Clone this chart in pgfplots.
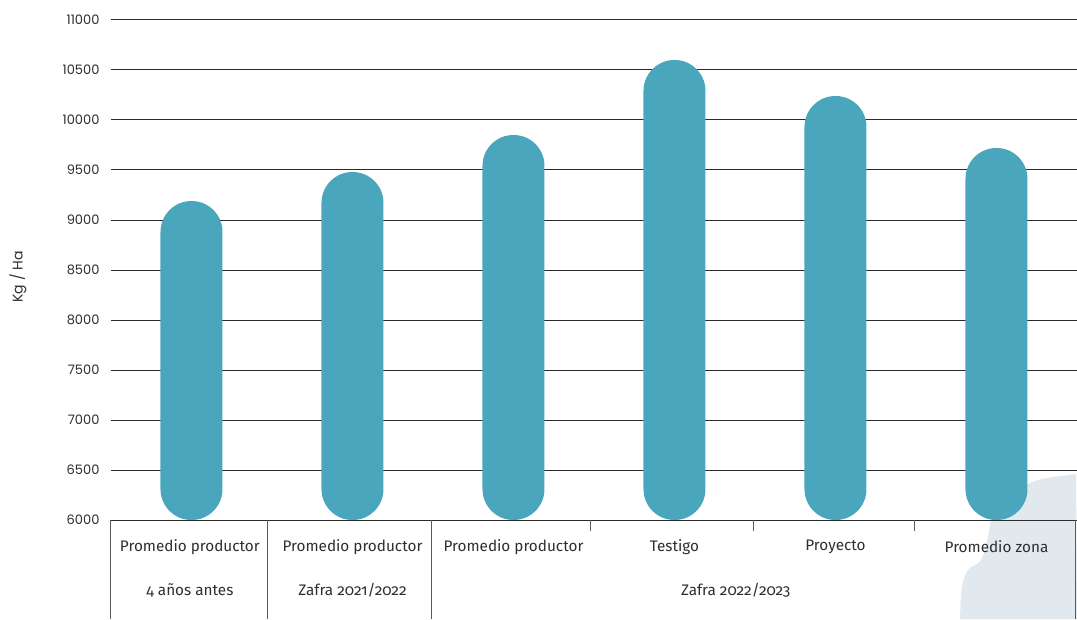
\documentclass[border=0pt]{standalone}
\usepackage{fontspec}
\setmainfont{Fira Sans}[Numbers=OldStyle]
\newfontfamily\tickfont{Poppins}
\usepackage{pgfplots}
\pgfplotsset{compat=1.18}

\definecolor{barcol}{HTML}{49A6BC}
\definecolor{blobcol}{HTML}{E1E9EE}
\definecolor{gridcol}{HTML}{2B2B2B}
\definecolor{sepcol}{HTML}{5A5A5A}
\definecolor{txtcol}{HTML}{2E2E2E}

\begin{document}
\begin{tikzpicture}
% decorative blob, lower right
\fill[blobcol] plot[smooth, tension=0.6] coordinates {
    (965pt,46pt) (936pt,42pt) (919pt,37pt) (894pt,22pt) (881pt,3pt)
    (877pt,-17pt) (870pt,-40pt) (857pt,-50pt) (851pt,-67pt) (849pt,-99pt)}
    -- (966pt,-99pt) -- cycle;

\begin{axis}[
    scale only axis,
    width=966pt, height=500pt,
    xmin=-0.5, xmax=5.5,
    ymin=6000, ymax=11000,
    y coord trafo/.code={\pgfmathparse{#1-6000}},
    y coord inv trafo/.code={\pgfmathparse{#1+6000}},
    ytick={6000,6500,...,11000},
    xtick=\empty,
    axis line style={draw=none},
    major tick length=0pt,
    ymajorgrids=true,
    grid style={gridcol, line width=1pt},
    yticklabel style={font=\tickfont\fontsize{13}{14}\selectfont, text=txtcol, xshift=-8pt},
    /pgf/number format/assume math mode=true,
    /pgf/number format/1000 sep={},
    clip=false,
]

\addplot[
    ybar,
    bar width=62pt,
    fill=barcol,
    draw=none,
    rounded corners=30.9pt,
    ]
    coordinates {
    (0,9190)(1,9480)(2,9850)(3,10600)(4,10240)(5,9720)
    };

% category table below the axis
\draw[sepcol, line width=1pt] (axis cs:-0.5,6000) -- ([yshift=-99pt]axis cs:-0.5,6000);
\draw[sepcol, line width=1pt] (axis cs:0.47,6000) -- ([yshift=-99pt]axis cs:0.47,6000);
\draw[sepcol, line width=1pt] (axis cs:1.49,6000) -- ([yshift=-99pt]axis cs:1.49,6000);
\draw[sepcol, line width=1pt] (axis cs:5.49,6000) -- ([yshift=-99pt]axis cs:5.49,6000);
\draw[sepcol, line width=1pt] (axis cs:2.48,6000) -- ([yshift=-11pt]axis cs:2.48,6000);
\draw[sepcol, line width=1pt] (axis cs:3.49,6000) -- ([yshift=-11pt]axis cs:3.49,6000);
\draw[sepcol, line width=1pt] (axis cs:4.49,6000) -- ([yshift=-11pt]axis cs:4.49,6000);

\begin{scope}[every node/.style={font=\fontsize{15.3}{16}\selectfont, text=txtcol}]
\node at (axis cs:-0.01,6000) [yshift=-27pt] {Promedio productor};
\node at (axis cs:1,6000) [yshift=-27pt] {Promedio productor};
\node at (axis cs:2,6000) [yshift=-27pt] {Promedio productor};
\node at (axis cs:3,6000) [yshift=-27pt] {Testigo};
\node at (axis cs:4,6000) [yshift=-27pt] {Proyecto};
\node at (axis cs:5,6000) [yshift=-27pt] {Promedio zona};
\node at (axis cs:-0.01,6000) [yshift=-70pt] {4 años antes};
\node at (axis cs:1,6000) [yshift=-70pt] {Zafra 2021/2022};
\node at (axis cs:3.38,6000) [yshift=-70pt] {Zafra 2022/2023};
\end{scope}
\end{axis}

\node[rotate=90, font=\tickfont\fontsize{14}{15}\selectfont, text=txtcol] at (-93pt,243pt) {Kg / Ha};

\pgfresetboundingbox
\useasboundingbox (-111pt,-99pt) rectangle (966pt,520pt);
\end{tikzpicture}
\end{document}
